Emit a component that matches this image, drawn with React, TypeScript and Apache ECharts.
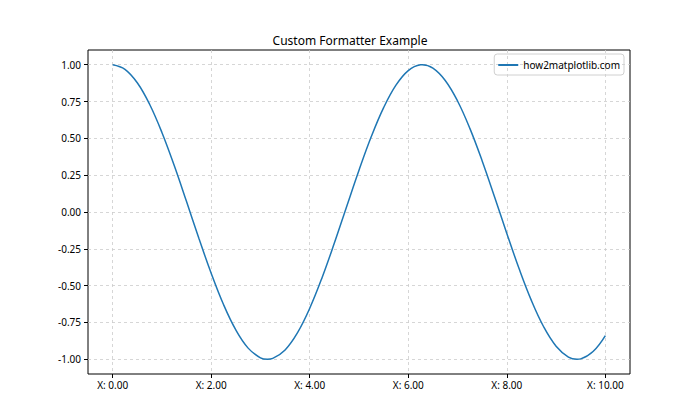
import React, { useEffect, useRef } from "react";
import * as echarts from "echarts";

const xValues = [
  0, 0.25, 0.5, 0.75, 1, 1.25, 1.5, 1.75, 2, 2.25, 2.5, 2.75, 3, 3.1416, 3.25, 3.5, 3.75, 4, 4.25, 4.5, 4.75,
  5, 5.25, 5.5, 5.75, 6, 6.25, 6.2832, 6.5, 6.75, 7, 7.25, 7.5, 7.75, 8, 8.25, 8.5, 8.75, 9, 9.25, 9.4248, 9.5, 9.75, 10,
];
const yValues = [
  1.0, 0.9689, 0.8776, 0.7317, 0.5403, 0.3153, 0.0707, -0.1782, -0.4161, -0.6282, -0.8011, -0.9243,
  -0.99, -1.0, -0.9941, -0.9365, -0.8206, -0.6536, -0.4461, -0.2108, 0.0376, 0.2837, 0.5121, 0.7087, 0.8612,
  0.9602, 0.9994, 1.0, 0.9766, 0.893, 0.7539, 0.5679, 0.3467, 0.1038, -0.1455, -0.3857, -0.602, -0.7808,
  -0.9111, -0.9848, -1.0, -0.9972, -0.9476, -0.8391,
];
const xTicks = [0, 2, 4, 6, 8, 10];
const yTicks = [-1, -0.75, -0.5, -0.25, 0, 0.25, 0.5, 0.75, 1];
const seriesName = "how2matplotlib.com";
const titleText = "Custom Formatter Example";

const FONT = "Noto Sans";

export default function App() {
  const ref = useRef<HTMLDivElement>(null);
  useEffect(() => {
    if (!ref.current) return;
    const chart = echarts.init(ref.current, undefined, { renderer: "svg" });
    const data = xValues.map((x, i) => [x, yValues[i]]);
    chart.setOption({
      animation: false,
      backgroundColor: "#fff",
      title: {
        text: titleText,
        left: "center",
        top: 29,
        textStyle: { fontFamily: FONT, fontSize: 12, fontWeight: "normal", color: "#000" },
      },
      legend: {
        right: 76,
        top: 54,
        padding: [6, 4, 5, 4],
        borderColor: "#d0d0d0",
        borderWidth: 1,
        borderRadius: 3,
        itemWidth: 20,
        itemHeight: 2,
        itemGap: 8,
        textStyle: { fontFamily: FONT, fontSize: 10, color: "#000" },
        data: [{ name: seriesName, icon: "rect" }],
      },
      grid: {
        left: 88,
        right: 70,
        top: 50,
        bottom: 46,
        show: true,
        borderColor: "#000",
        borderWidth: 1,
        backgroundColor: "transparent",
      },
      xAxis: {
        type: "value",
        min: -0.5,
        max: 10.5,
        axisLine: { show: false, onZero: false },
        axisTick: { show: true, customValues: xTicks, length: 4, lineStyle: { color: "#000" } },
        axisLabel: {
          customValues: xTicks,
          formatter: (v: number) => "X: " + v.toFixed(2),
          fontFamily: FONT,
          fontSize: 10,
          color: "#000",
          margin: 6,
        },
        splitLine: { show: true, lineStyle: { color: "#cccccc", type: [3, 3], width: 0.8 } },
      },
      yAxis: {
        type: "value",
        min: -1.1,
        max: 1.1,
        axisLine: { show: false, onZero: false },
        axisTick: { show: true, customValues: yTicks, length: 4, lineStyle: { color: "#000" } },
        axisLabel: {
          customValues: yTicks,
          formatter: (v: number) => v.toFixed(2),
          fontFamily: FONT,
          fontSize: 10,
          color: "#000",
          margin: 7,
        },
        splitLine: { show: true, lineStyle: { color: "#cccccc", type: [3, 3], width: 0.8 } },
      },
      series: [
        {
          name: seriesName,
          type: "line",
          data,
          smooth: 0.4,
          showSymbol: false,
          symbol: "none",
          lineStyle: { color: "#1f77b4", width: 1.5 },
          itemStyle: { color: "#1f77b4" },
        },
      ],
    });
    return () => chart.dispose();
  }, []);
  return <div ref={ref} style={{ width: 700, height: 420, position: "absolute", left: 0, top: 0 }} />;
}
